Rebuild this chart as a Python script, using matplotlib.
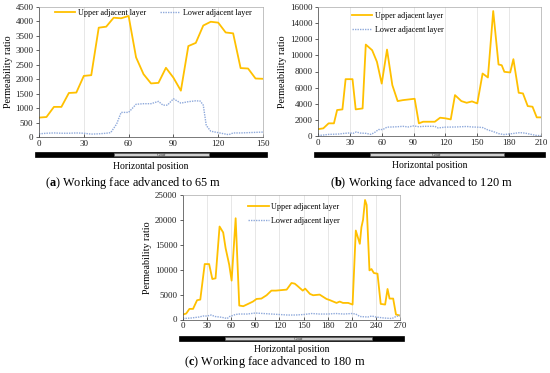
import matplotlib
matplotlib.use("Agg")
import matplotlib.pyplot as plt
import matplotlib.transforms as mtransforms
from matplotlib.patches import Rectangle

plt.rcParams['font.family'] = ['Liberation Serif', 'DejaVu Serif']
plt.rcParams['mathtext.fontset'] = 'custom'
plt.rcParams['mathtext.rm'] = 'Liberation Serif'
plt.rcParams['mathtext.bf'] = 'Liberation Serif:bold'

# ---------------- data ----------------
# (a) advanced 65 m
a_up_x = [0, 5, 10, 15, 20, 25, 30, 35, 40, 45, 50, 55, 60, 65, 70, 75, 80, 85, 90, 95,
          100, 105, 110, 115, 120, 125, 130, 135, 140, 145, 150]
a_up_y = [670, 690, 1040, 1040, 1520, 1535, 2110, 2135, 3775, 3810, 4120, 4100, 4180,
          2750, 2170, 1850, 1870, 2390, 2050, 1600, 3140, 3250, 3850, 3980, 3950, 3610,
          3580, 2380, 2365, 2020, 2010]
a_lo_x = [0, 5, 10, 15, 20, 25, 30, 35, 40, 45, 48, 52, 55, 60, 65, 70, 75, 80, 83,
          86, 90, 95, 100, 105, 108, 110, 112, 115, 120, 125, 127, 130, 135, 140, 145, 150]
a_lo_y = [110, 130, 140, 130, 130, 140, 130, 100, 110, 130, 150, 450, 850, 850, 1130,
          1150, 1150, 1230, 1100, 1100, 1320, 1170, 1220, 1250, 1240, 1100, 400, 200,
          150, 100, 80, 140, 140, 150, 160, 170]

# (b) advanced 120 m
b_up_x = [0, 5, 10, 15, 18, 23, 26, 32.5, 35.5, 42, 45, 51, 55.5, 60, 65, 70, 75, 80,
          91, 95, 99, 110, 115, 120, 125, 129, 135, 140, 145, 150, 155, 160, 165, 170,
          173, 175.5, 181, 184, 189, 193, 197.5, 202, 206, 210]
b_up_y = [850, 950, 1570, 1570, 3220, 3300, 7050, 7050, 3300, 3420, 11340, 10640, 9200,
          6500, 10720, 6310, 4330, 4450, 4620, 1570, 1770, 1770, 2270, 2190, 2060, 5070,
          4330, 4120, 4290, 4040, 7750, 7260, 15500, 8870, 8780, 7960, 7880, 9530, 5360,
          5280, 3710, 3630, 2310, 2310]
b_lo_x = [0, 5, 10, 15, 20, 25, 30, 33, 36, 40, 45, 50, 54, 57, 61, 65, 70, 75, 80,
          85, 90, 95, 100, 105, 110, 113, 120, 130, 140, 145, 150, 155, 160, 165, 170,
          175, 180, 185, 190, 195, 200, 205, 210]
b_lo_y = [60, 120, 200, 220, 250, 330, 380, 330, 500, 360, 330, 200, 500, 800, 800,
          1100, 1120, 1150, 1200, 1120, 1250, 1150, 1200, 1200, 1200, 1000, 1100, 1120,
          1180, 1120, 1100, 1050, 750, 550, 300, 180, 250, 330, 420, 360, 220, 80, 40]

# (c) advanced 180 m
c_up_x = [0, 4, 8, 12.5, 17.5, 21.5, 27, 32.5, 36.5, 40.5, 45.5, 50, 53, 57.5, 60.5,
          65.5, 70, 75, 81, 87, 91.5, 97.5, 104, 110, 115.5, 129, 135, 139, 142, 149,
          152, 158, 162, 170, 178.5, 183, 191, 195, 199, 205.5, 211, 215, 220, 222, 224,
          226.5, 228.5, 232, 234.5, 237.5, 242, 246, 251.5, 254.5, 257, 261.5, 265, 270]
c_up_y = [1000, 1200, 2130, 2130, 3870, 4000, 11130, 11130, 8130, 8270, 18670, 17470,
          14330, 11000, 7800, 20330, 2800, 2670, 3130, 3600, 4130, 4200, 4870, 5800, 5800,
          6000, 7330, 7200, 6800, 5800, 6200, 5130, 4870, 5000, 4130, 3870, 3330, 3600,
          3330, 3330, 3000, 17870, 15200, 18530, 20000, 24000, 23000, 9870, 10130, 9330,
          9200, 3130, 3000, 6130, 4200, 4200, 1000, 800]
c_lo_x = [0, 10, 20, 25, 30, 35, 40, 48, 55, 58, 62, 65, 70, 80, 90, 100, 110, 120,
          130, 140, 150, 160, 170, 180, 190, 200, 210, 215, 220, 230, 235, 240, 250,
          260, 265, 270]
c_lo_y = [200, 300, 500, 700, 700, 900, 600, 450, 200, 600, 800, 1000, 1100, 1100,
          1300, 1200, 1100, 1000, 900, 900, 1000, 1200, 1100, 1100, 1200, 1100, 1200,
          1100, 600, 500, 700, 500, 300, 200, 600, 800]

xmax = [150, 210, 270]
ymax = [4500, 16000, 25000]
ystep = [500, 2000, 5000]
goaf = [(50, 114), (49, 175), (52, 235)]
captions = [r"($\mathbf{a}$) Working face advanced to 65 m",
            r"($\mathbf{b}$) Working face advanced to 120 m",
            r"($\mathbf{c}$) Working face advanced to 180 m"]
labels = ["Upper adjacent layer", "Lower adjacent layer"]

UP = "#FFC000"
LO = "#8EA9DB"

W, H = 550, 373
fig = plt.figure(figsize=(5.5, 3.73), dpi=100)

# axes rectangles in pixels: left, top, right, bottom
rects = [(39, 6.7, 263, 137), (318, 7, 541, 136), (183, 195, 400, 319.5)]
bars = [(152, 157), (152, 157), (336, 341)]
cap_pos = [(133, 183), (421, 183), (275, 362)]
leg_anchor = [(0.071, 0.985), (0.152, 0.96), (0.30, 0.935)]

series = [(a_up_x, a_up_y, a_lo_x, a_lo_y),
          (b_up_x, b_up_y, b_lo_x, b_lo_y),
          (c_up_x, c_up_y, c_lo_x, c_lo_y)]

for i in range(3):
    l, t, r, b = rects[i]
    ax = fig.add_axes([l / W, 1 - b / H, (r - l) / W, (b - t) / H])
    ux, uy, lx, ly = series[i]
    ax.plot(ux, uy, color=UP, lw=1.3, label=labels[0])
    ax.plot(lx, ly, color=LO, lw=1.0, ls=(0, (1, 0.8)), label=labels[1])
    ax.set_xlim(0, xmax[i])
    ax.set_ylim(0, ymax[i])
    ax.set_xticks(range(0, xmax[i] + 1, 30))
    ax.set_yticks(range(0, ymax[i] + 1, ystep[i]))
    ax.tick_params(labelsize=6.5, length=2, width=0.5, pad=2, colors="#222222")
    ax.tick_params(axis='x', direction='in')
    ax.grid(axis='x', color="#DDDDDD", lw=0.5)
    for s in ax.spines.values():
        s.set_color("#AAAAAA")
        s.set_linewidth(0.5)
    ax.spines['left'].set_color("#444444")
    ax.spines['bottom'].set_color("#444444")
    ax.set_ylabel("Permeability ratio", fontsize=7.2, labelpad=2)
    ax.set_xlabel("Horizontal position", fontsize=6.9, labelpad=10.5)

    common = dict(frameon=False, fontsize=5.9, handlelength=2.5, handletextpad=0.3,
                  borderaxespad=0, borderpad=0, loc='upper left',
                  bbox_to_anchor=leg_anchor[i])
    if i == 0:
        ax.legend(ncol=2, columnspacing=1.7, **common)
    else:
        ax.legend(labelspacing=0.75, **common)

    # goaf bar below the axis
    tr = mtransforms.blended_transform_factory(ax.transData, fig.transFigure)
    by0, by1 = bars[i]
    ext = xmax[i] * 0.018
    y0 = 1 - by1 / H
    hh = (by1 - by0) / H
    ax.add_patch(Rectangle((-ext, y0), xmax[i] + 2 * ext, hh, transform=tr,
                           facecolor="black", edgecolor="black", lw=0.5, clip_on=False))
    g0, g1 = goaf[i]
    ax.add_patch(Rectangle((g0, y0 + hh * 0.12), g1 - g0, hh * 0.76, transform=tr,
                           facecolor="#D0D0D0", edgecolor="#555555", lw=0.4, clip_on=False))
    ax.text((g0 + g1) / 2, y0 + hh / 2, "Goaf", transform=tr, fontsize=3.5,
            ha='center', va='center', color="#333333")

    cx, cy = cap_pos[i]
    fig.text(cx / W, 1 - cy / H, captions[i], fontsize=8.8, ha='center', va='center')

fig.savefig("out.png", dpi=100)
